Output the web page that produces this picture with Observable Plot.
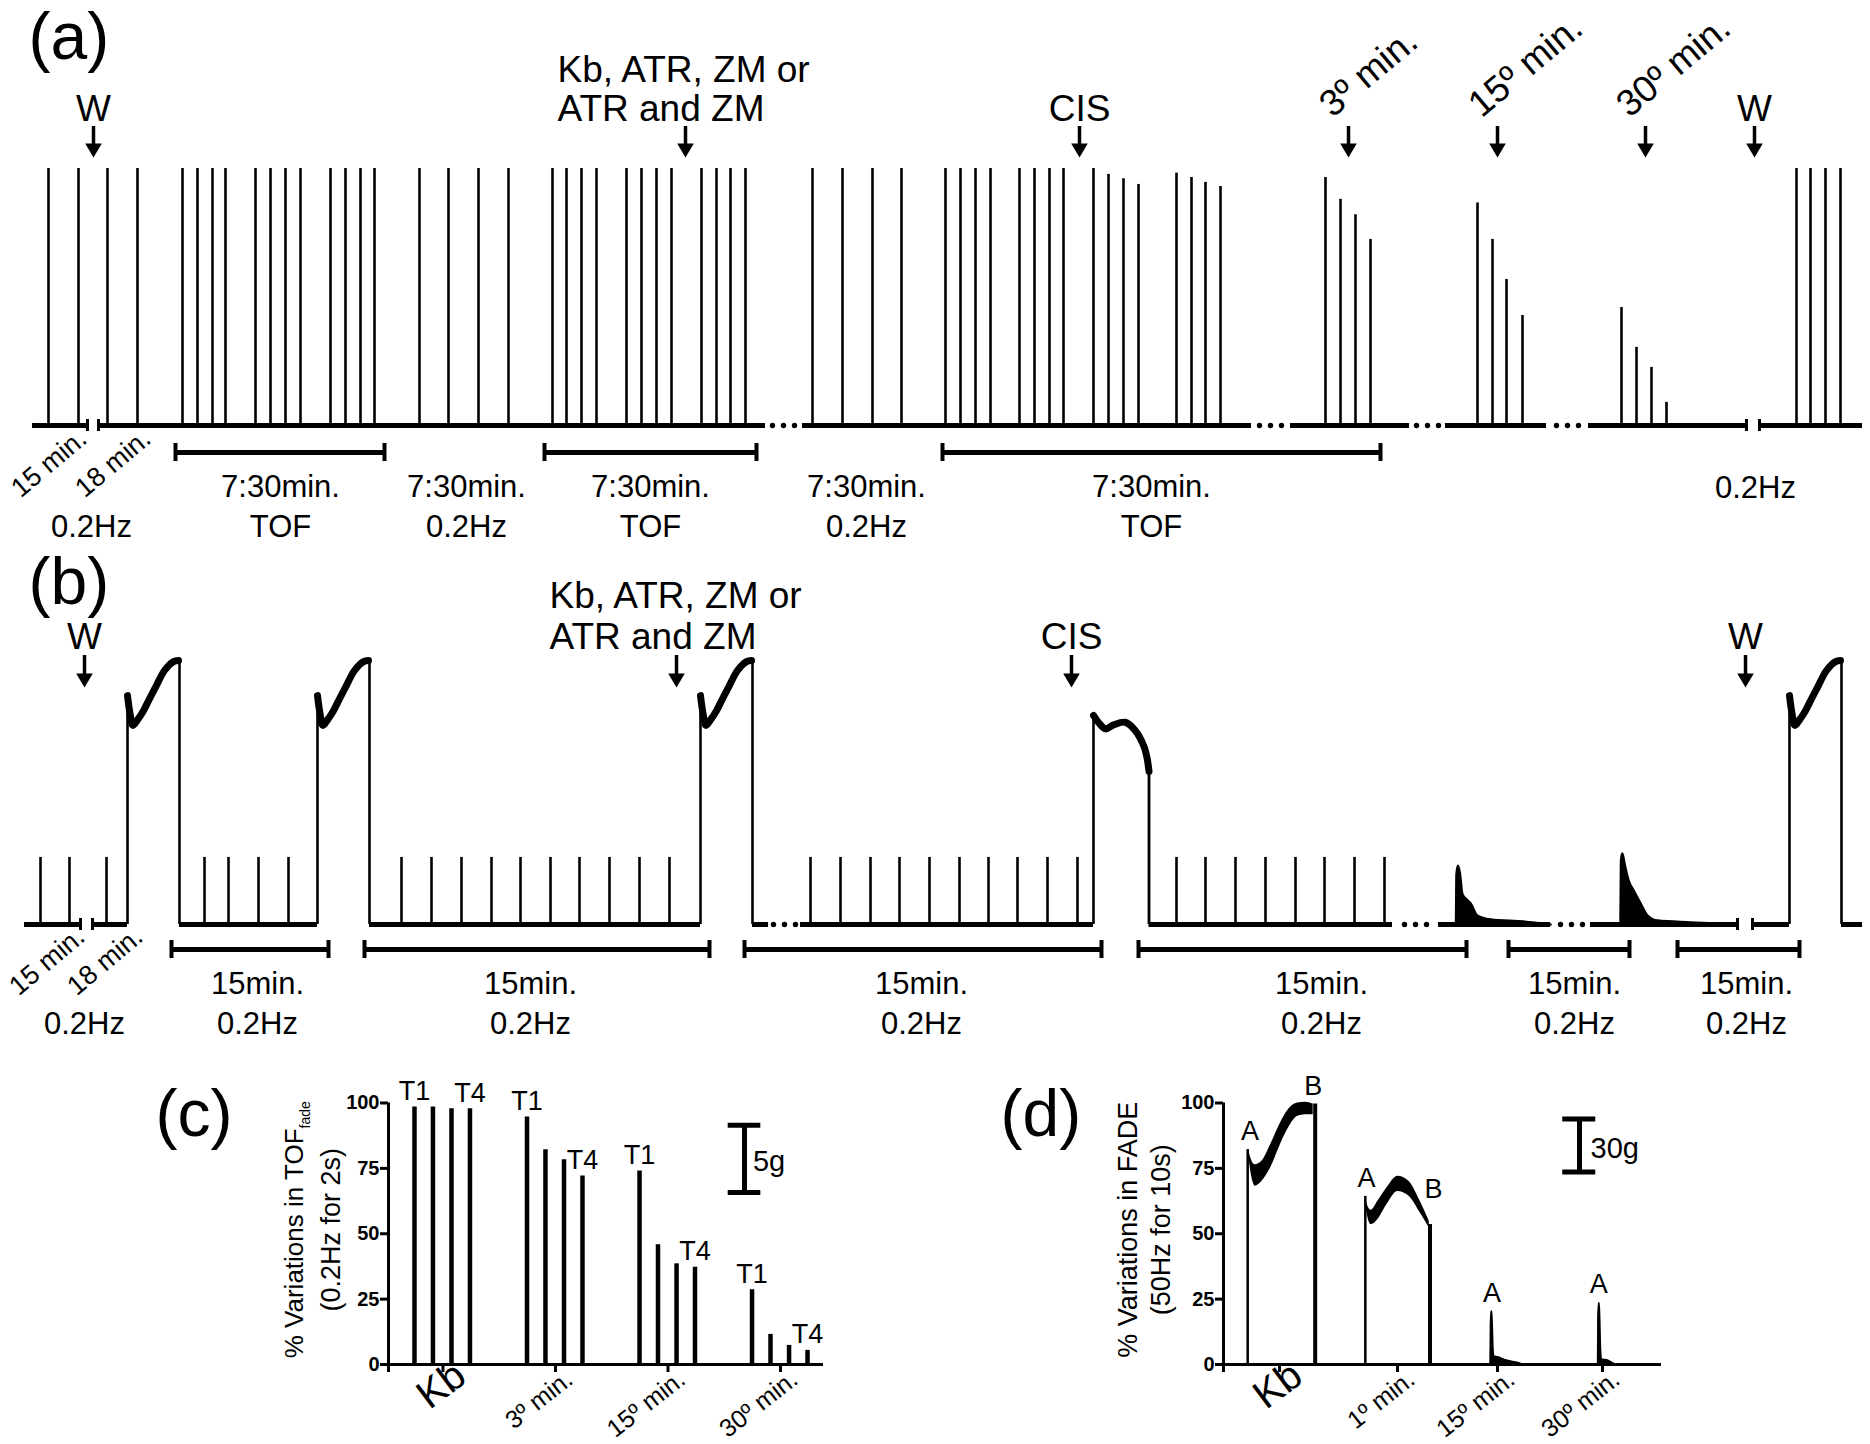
<!DOCTYPE html>
<html><head><meta charset="utf-8">
<script src="https://cdn.jsdelivr.net/npm/d3@7"></script>
<script src="https://cdn.jsdelivr.net/npm/@observablehq/plot@0.6"></script>
<style>
body{margin:0;background:#fff}
#root{position:relative;width:1870px;height:1444px;background:#fff;overflow:hidden}
</style></head><body><div id="root"></div>
<script>
// ================= DATA =================
// ---- Panel (a): schematic time axis t, twitch amplitude (% of control) ----
const aBaseline = [[32, 87], [98, 765], [802, 1251], [1290, 1409], [1445, 1546], [1588, 1746], [1759, 1862]];
const aBreaks = [87, 98, 1746, 1759];
const aGaps = [783, 1270, 1427, 1567];
const aTwitchT = [48, 78, 107, 137,
  182, 197, 212, 225, 255, 270, 285, 300, 330, 345, 360, 374,
  419, 448, 478, 508,
  552, 566, 581, 596, 626, 641, 656, 671, 701, 716, 730, 745,
  812, 842, 872, 901,
  945, 960, 975, 990, 1019, 1034, 1049, 1063, 1093, 1108, 1123, 1138, 1176, 1191, 1205, 1220,
  1325, 1340, 1355, 1370,
  1477, 1492, 1506, 1522,
  1621, 1636, 1651, 1666,
  1796, 1810, 1825, 1840];
const aTwitchAmp = [100, 100, 100, 100,
  100, 100, 100, 100, 100, 100, 100, 100, 100, 100, 100, 100,
  100, 100, 100, 100,
  100, 100, 100, 100, 100, 100, 100, 100, 100, 100, 100, 100,
  100, 100, 100, 100,
  100, 100, 100, 100, 100, 100, 100, 100, 100, 97.7, 96, 93.8, 98.2, 96.5, 94.6, 93,
  96.5, 88, 82, 72.4,
  86.6, 72.4, 56.8, 42.8,
  45.9, 30.4, 22.6, 9,
  100, 100, 100, 100];
const aArrowT = [93, 685, 1079, 1348, 1497, 1645, 1754];
const aArrowLabels = ["W", "Kb, ATR, ZM or\nATR and ZM", "CIS", "3º min.", "15º min.", "30º min.", "W"];
const aArrowKind = ["center", "drug", "center", "rot", "rot", "rot", "center"];
const aBrackets = [[175, 384], [544, 756], [942, 1380]];
const aSegT = [280, 466, 650, 866, 1151];
const aSegLabels = ["7:30min.\nTOF", "7:30min.\n0.2Hz", "7:30min.\nTOF", "7:30min.\n0.2Hz", "7:30min.\nTOF"];
const aDurT = [88, 152];
const aDurLabels = ["15 min.", "18 min."];
const aRateT = [91, 1755];

// ---- Panel (b): schematic time axis t, tension (% of tetanic maximum) ----
const bBaseline = [[24, 80], [92, 127], [179, 317], [369, 700], [752, 768], [800, 1093], [1148.5, 1392], [1438, 1550], [1590, 1737], [1752, 1789], [1841, 1862]];
const bBreaks = [80, 92, 1737, 1752];
const bGaps = [784, 1415, 1571];
const bTwitchT = [40, 69, 106, 204, 228, 258, 288,
  401, 431, 461, 491, 520, 550, 579, 609, 639, 669,
  810, 840, 870, 899, 929, 959, 988, 1017, 1047, 1077,
  1176, 1205, 1235, 1265, 1295, 1324, 1354, 1384];
const bTwitchAmp = 25.4;
const bTetanicStart = [127, 317, 700, 1789];
const bTetanicWidth = 52;
const bTetanicProfile = [[0, 86.7], [2.5, 80], [5.5, 75.4], [10, 77.5], [16, 81], [22, 85.5], [28, 89.8], [37, 96.2], [46, 99.6], [51, 100]];
const bCisStart = 1093;
const bCisWidth = 55.5;
const bCisProfile = [[0, 79.2], [5, 76.5], [12, 74.1], [20, 75.6], [31.6, 76.6], [41.7, 73.5], [50.7, 67.2], [53.7, 62.8], [55.5, 58]];
const bPeak1T = [1455.5, 1456, 1457.5, 1459.5, 1461.7, 1466, 1470, 1476.7, 1490, 1523, 1550];
const bPeak1V = [0, 19, 22.3, 19, 11.7, 9.5, 8, 3.4, 1.9, 1.1, 0];
const bPeak2T = [1620, 1620.5, 1621.8, 1624, 1628, 1633, 1640, 1647, 1657, 1690, 1737];
const bPeak2V = [0, 24, 26.9, 23, 16.7, 12.9, 8, 3.4, 1.5, 0.8, 0];
const bArrowT = [84, 676, 1071, 1745];
const bArrowLabels = ["W", "Kb, ATR, ZM or\nATR and ZM", "CIS", "W"];
const bArrowKind = ["center", "drug", "center", "center"];
const bBrackets = [[171, 328], [364, 709], [744, 1101], [1138, 1466], [1508, 1629], [1677, 1799]];
const bSegT = [257, 530, 921, 1321, 1574, 1746];
const bSegLabel = "15min.\n0.2Hz";
const bDurT = [86, 144];
const bDurLabels = ["15 min.", "18 min."];
const bRateT = [84];

// ---- Panel (c): TOF fade ----
const cGroups = ["Kb", "3º min.", "15º min.", "30º min."];
const cStimT = [-0.253, -0.089, 0.076, 0.24];
const cAmp = [[98.5, 98.5, 97.8, 97.8], [94.6, 82.1, 78.3, 72.1], [74, 45.8, 38.5, 37.2], [28.6, 11.5, 7.3, 5.4]];
const cPulseLabels = ["T1", "", "", "T4"];
const yTicks = [0, 25, 50, 75, 100];

// ---- Panel (d): tetanic fade ----
const dGroups = ["Kb", "1º min.", "15º min.", "30º min."];
const dGroupT = [0, 1, 1.847, 2.737];
const dKbT = [-0.264, -0.226, -0.207, -0.150, -0.075, 0.001, 0.076, 0.153, 0.22, 0.285];
const dKbHi = [82.2, 77.1, 76.4, 77.7, 84.1, 91.7, 97.5, 100, 100.3, 99.6];
const dKbLo = [80.3, 70, 68.2, 70, 75.2, 83.4, 90.4, 94.9, 95.5, 95.5];
const d1T = [0.727, 0.745, 0.776, 0.833, 0.909, 1.003, 1.098, 1.192, 1.269];
const d1Hi = [64.3, 61, 59, 62.4, 67.5, 72, 70, 62.4, 54.8];
const d1Lo = [62, 57, 53.5, 55.4, 61.1, 66.2, 64.3, 58, 52.2];
const dRise = [[-0.27, 82.2], [0.727, 64.3]];
const dFall = [[0.302, 99.6], [1.275, 53.5]];
const d15T = [1.787, 1.790, 1.795, 1.800, 1.806, 1.813, 1.846, 1.92, 2.0, 2.06];
const d15V = [0, 15, 20.4, 15, 6, 3.2, 2.8, 1.6, 0.8, 0];
const d30T = [2.698, 2.701, 2.706, 2.711, 2.717, 2.725, 2.781, 2.838];
const d30V = [0, 18, 23.6, 17, 6, 2, 1.5, 0];
const dLabels = [["A", -0.25, 82.2], ["B", 0.285, 99.6], ["A", 0.737, 64.3], ["B", 1.305, 60], ["A", 1.80, 20.4], ["A", 2.706, 23.6]];

// ================= DRAWING =================
const W = 1870, H = 1444;
const FONT = "'Liberation Sans', Arial, Helvetica, sans-serif";
const root = document.getElementById("root");
const base = {width: W, height: H,
  style: `position:absolute;left:0;top:0;background:transparent;overflow:visible;font-family:${FONT};color:#000;max-width:none`};
const triDown = {draw(ctx, size) {
  const s = Math.sqrt(size);
  ctx.moveTo(0, 0); ctx.lineTo(-0.78 * s, -1.32 * s); ctx.lineTo(0.78 * s, -1.32 * s); ctx.closePath();
}};
const zip = (a, b) => a.map((v, i) => ({t: v, v: b[i]}));

function schematic({baseline, breaks, gaps, py, arrowT, arrowLabels, arrowKind, arrowTop, arrowTip, textBase, drugDx, drugLH,
                    brackets, brY, durT, durLabels, durBase, letter, letterBase}) {
  const pts = arrowT.map((t, i) => ({t, label: arrowLabels[i], kind: arrowKind[i]}));
  return [
    Plot.ruleY(baseline, {y: 0, x1: d => d[0], x2: d => d[1], strokeWidth: 5}),
    Plot.ruleX(breaks, {x: d => d, y1: py(brY.brk[0]), y2: py(brY.brk[1]), strokeWidth: 3}),
    ...[-11, 0, 11].map(dx => Plot.dot(gaps, {x: d => d, y: 0, r: 2.7, fill: "black", dx})),
    // arrows
    Plot.ruleX(arrowT, {x: d => d, y1: py(arrowTop), y2: py(arrowTip - 11), strokeWidth: 3.5}),
    Plot.dot(arrowT, {x: d => d, y: py(arrowTip), symbol: triDown, r: 6, fill: "black"}),
    Plot.text(pts.filter(d => d.kind === "center"), {x: "t", text: "label", frameAnchor: "top", dy: textBase, lineAnchor: "bottom", fontSize: 37}),
    Plot.text(pts.filter(d => d.kind === "drug"), {x: "t", text: "label", frameAnchor: "top", dy: textBase, dx: drugDx, textAnchor: "start", lineAnchor: "bottom", lineHeight: drugLH, fontSize: 37}),
    Plot.text(pts.filter(d => d.kind === "rot"), {x: "t", text: "label", frameAnchor: "top", dy: textBase - 2, dx: -16, textAnchor: "start", lineAnchor: "bottom", rotate: -40, fontSize: 37}),
    // brackets
    Plot.ruleY(brackets, {y: py(brY.bar), x1: d => d[0], x2: d => d[1], strokeWidth: 5}),
    Plot.ruleX(brackets.flat(), {x: d => d, y1: py(brY.cap[0]), y2: py(brY.cap[1]), strokeWidth: 4}),
    Plot.text(durT.map((t, i) => ({t, label: durLabels[i]})), {x: "t", text: "label", frameAnchor: "top", dy: durBase, textAnchor: "end", lineAnchor: "bottom", rotate: -40, fontSize: 27}),
    Plot.text([letter], {frameAnchor: "top-left", dx: 28, dy: letterBase, textAnchor: "start", lineAnchor: "bottom", fontSize: 66})
  ];
}

// ---------- (a) ----------
const ua = px => (425 - px) * 100 / 257;
const aTwitches = zip(aTwitchT, aTwitchAmp);
const plotA = Plot.plot({...base, margin: 0,
  x: {domain: [0, W], range: [0, W], axis: null},
  y: {domain: [0, 100], range: [425, 168], axis: null},
  marks: [
    ...schematic({baseline: aBaseline, breaks: aBreaks, gaps: aGaps, py: ua,
      arrowT: aArrowT, arrowLabels: aArrowLabels, arrowKind: aArrowKind, arrowTop: 126, arrowTip: 157, textBase: 120, drugDx: -128, drugLH: 1.05,
      brackets: aBrackets, brY: {bar: 452, cap: [443, 461], brk: [419, 431]},
      durT: aDurT, durLabels: aDurLabels, durBase: 441, letter: "(a)", letterBase: 58}),
    Plot.ruleX(aTwitches, {x: "t", y1: 0, y2: "v", strokeWidth: 2.6}),
    Plot.text(aSegT.map((t, i) => ({t, label: aSegLabels[i]})), {x: "t", text: "label", frameAnchor: "top", dy: 536, lineAnchor: "bottom", lineHeight: 1.26, fontSize: 31}),
    Plot.text([aRateT[0]], {x: d => d, text: () => "0.2Hz", frameAnchor: "top", dy: 536, lineAnchor: "bottom", fontSize: 31}),
    Plot.text([aRateT[1]], {x: d => d, text: () => "0.2Hz", frameAnchor: "top", dy: 497, lineAnchor: "bottom", fontSize: 31})
  ]});
root.appendChild(plotA);

// ---------- (b) ----------
const ub = px => (924 - px) * 100 / 264;
const bTetCurve = bTetanicStart.flatMap((s, j) => bTetanicProfile.map(([dx, v]) => ({t: s + dx, v, j})));
const bCisCurve = bCisProfile.map(([dx, v]) => ({t: bCisStart + dx, v}));
const bPeaks = [...zip(bPeak1T, bPeak1V).map(d => ({...d, j: 1})), ...zip(bPeak2T, bPeak2V).map(d => ({...d, j: 2}))];
const plotB = Plot.plot({...base, margin: 0,
  x: {domain: [0, W], range: [0, W], axis: null},
  y: {domain: [0, 100], range: [924, 660], axis: null},
  marks: [
    ...schematic({baseline: bBaseline, breaks: bBreaks, gaps: bGaps, py: ub,
      arrowT: bArrowT, arrowLabels: bArrowLabels, arrowKind: bArrowKind, arrowTop: 655, arrowTip: 687, textBase: 648, drugDx: -127, drugLH: 1.1,
      brackets: bBrackets, brY: {bar: 949, cap: [940, 958], brk: [918, 930]},
      durT: bDurT, durLabels: bDurLabels, durBase: 939, letter: "(b)", letterBase: 603}),
    Plot.ruleX(bTwitchT, {x: d => d, y1: 0, y2: bTwitchAmp, strokeWidth: 2.6}),
    Plot.ruleX(bTetanicStart, {x: d => d, y1: 0, y2: bTetanicProfile[0][1], strokeWidth: 2.6}),
    Plot.ruleX(bTetanicStart, {x: d => d + bTetanicWidth, y1: 0, y2: 100, strokeWidth: 2.6}),
    Plot.line(bTetCurve, {x: "t", y: "v", z: "j", strokeWidth: 7, curve: "catmull-rom", strokeLinejoin: "round"}),
    Plot.ruleX([bCisStart], {x: d => d, y1: 0, y2: bCisProfile[0][1], strokeWidth: 2.6}),
    Plot.ruleX([bCisStart], {x: d => d + bCisWidth, y1: 0, y2: 58, strokeWidth: 2.8}),
    Plot.line(bCisCurve, {x: "t", y: "v", strokeWidth: 7, curve: "catmull-rom", strokeLinejoin: "round"}),
    Plot.areaY(bPeaks, {x: "t", y: "v", z: "j", fill: "black", curve: "monotone-x"}),
    Plot.line(bPeaks, {x: "t", y: "v", z: "j", strokeWidth: 2.5, curve: "monotone-x"}),
    Plot.text(bSegT, {x: d => d, text: () => bSegLabel, frameAnchor: "top", dy: 1033, lineAnchor: "bottom", lineHeight: 1.26, fontSize: 31}),
    Plot.text(bRateT, {x: d => d, text: () => "0.2Hz", frameAnchor: "top", dy: 1033, lineAnchor: "bottom", fontSize: 31})
  ]});
root.appendChild(plotB);

// ---------- (c) & (d) shared ----------
const Y0 = 1364, Y100 = 1102.5;
function axesMarks(xmin, ticks) {
  return [
    Plot.axisY({ticks: yTicks, tickSize: 8, tickPadding: 1, fontSize: 20, fontWeight: "bold", strokeWidth: 3, label: null}),
    Plot.axisX({ticks: [xmin, ...ticks], tickSize: 8, tickFormat: () => "", strokeWidth: 3, label: null}),
    Plot.ruleY([0], {strokeWidth: 3}),
    Plot.ruleX([xmin], {strokeWidth: 3})
  ];
}
function xLabels(groups, tpos) {
  const g = groups.map((label, i) => ({label, t: tpos[i]}));
  return [
    Plot.text(g.slice(0, 1), {x: "t", text: "label", frameAnchor: "bottom", dx: 6, dy: 31, rotate: -37, fontSize: 40}),
    Plot.text(g.slice(1), {x: "t", text: "label", frameAnchor: "bottom", dx: 19, dy: 18, textAnchor: "end", rotate: -38, fontSize: 25})
  ];
}
function yTitle(l1, l2, dx1, dx2, fs1, fs2) {
  return [
    Plot.text([l1], {frameAnchor: "left", dx: dx1, dy: -4, rotate: -90, textAnchor: "middle", lineAnchor: "bottom", fontSize: fs1}),
    Plot.text([l2], {frameAnchor: "left", dx: dx2, dy: -4, rotate: -90, textAnchor: "middle", lineAnchor: "bottom", fontSize: fs2})
  ];
}

// ---------- (c) ----------
const cX0 = -0.484;
const cSpikes = cAmp.flatMap((row, i) => row.map((v, k) => ({t: i + cStimT[k], v, label: cPulseLabels[k]})));
const plotC = Plot.plot({...base,
  marginLeft: 388, marginRight: W - 823, marginTop: Y100, marginBottom: H - Y0,
  x: {domain: [cX0, 3.382], axis: null},
  y: {domain: [0, 100], axis: null},
  marks: [
    ...axesMarks(cX0, [0, 1, 2, 3]),
    Plot.ruleX(cSpikes, {x: "t", y1: 0, y2: "v", strokeWidth: 4.5}),
    Plot.text(cSpikes.filter(d => d.label), {x: "t", y: "v", text: "label", dy: -7, lineAnchor: "bottom", fontSize: 27}),
    ...xLabels(cGroups, [0, 1, 2, 3]),
    // scale bar 5 g
    Plot.ruleX([2.68], {x: d => d, y1: 65.8, y2: 91.5, strokeWidth: 5}),
    Plot.ruleY([65.8, 91.5], {y: d => d, x1: 2.535, x2: 2.825, strokeWidth: 5}),
    Plot.text(["5g"], {x: 2.755, y: 77.7, textAnchor: "start", fontSize: 29}),
    ...yTitle("% Variations in TOF", "(0.2Hz for 2s)", -86, -49, 26, 27),
    Plot.text(["(c)"], {frameAnchor: "top-left", dx: 155 - 388, dy: 1135 - Y100, textAnchor: "start", lineAnchor: "bottom", fontSize: 66})
  ]});
root.appendChild(plotC);
d3.select(plotC).selectAll("text").filter(function() { return this.textContent === "% Variations in TOF"; })
  .append("tspan").attr("font-size", 14).attr("dy", 7).text("fade");

// ---------- (d) ----------
const dX0 = -0.475;
const dKb = dKbT.map((t, i) => ({t, hi: dKbHi[i], lo: dKbLo[i], j: 0}));
const d1 = d1T.map((t, i) => ({t, hi: d1Hi[i], lo: d1Lo[i], j: 1}));
const dPk = [...zip(d15T, d15V).map(d => ({...d, j: 0})), ...zip(d30T, d30V).map(d => ({...d, j: 1}))];
const plotD = Plot.plot({...base,
  marginLeft: 1223, marginRight: W - 1661, marginTop: Y100, marginBottom: H - Y0,
  x: {domain: [dX0, 3.237], axis: null},
  y: {domain: [0, 100], axis: null},
  marks: [
    ...axesMarks(dX0, dGroupT),
    Plot.areaY([...dKb, ...d1], {x: "t", y1: "lo", y2: "hi", z: "j", fill: "black", curve: "monotone-x"}),
    Plot.ruleX(dRise, {x: d => d[0], y1: 0, y2: d => d[1], strokeWidth: 2.5}),
    Plot.ruleX(dFall, {x: d => d[0], y1: 0, y2: d => d[1], strokeWidth: 4}),
    Plot.areaY(dPk, {x: "t", y: "v", z: "j", fill: "black", curve: "monotone-x"}),
    Plot.line(dPk, {x: "t", y: "v", z: "j", strokeWidth: 2.2, curve: "monotone-x"}),
    Plot.text(dLabels, {x: d => d[1], y: d => d[2], text: d => d[0], dy: -18, fontSize: 27}),
    ...xLabels(dGroups, dGroupT),
    // scale bar 30 g
    Plot.ruleX([2.542], {x: d => d, y1: 73.6, y2: 93.9, strokeWidth: 5}),
    Plot.ruleY([73.6, 93.9], {y: d => d, x1: 2.40, x2: 2.68, strokeWidth: 5}),
    Plot.text(["30g"], {x: 2.636, y: 82.4, textAnchor: "start", fontSize: 29}),
    ...yTitle("% Variations in FADE", "(50Hz for 10s)", -87, -54, 27, 27),
    Plot.text(["(d)"], {frameAnchor: "top-left", dx: 1000 - 1223, dy: 1135 - Y100, textAnchor: "start", lineAnchor: "bottom", fontSize: 66})
  ]});
root.appendChild(plotD);
</script></body></html>
